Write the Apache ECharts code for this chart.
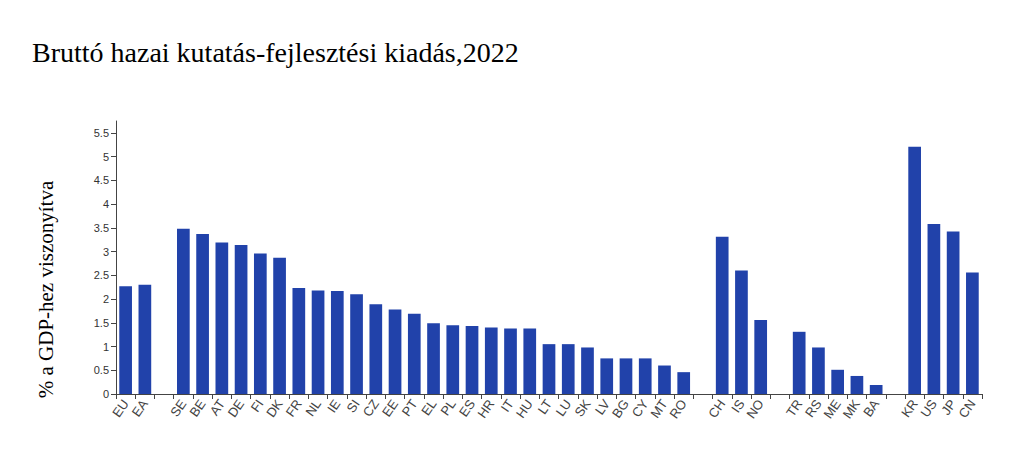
<!DOCTYPE html>
<html>
<head>
<meta charset="utf-8">
<script src="https://cdn.jsdelivr.net/npm/echarts@6/dist/echarts.min.js"></script>
<style>
html,body{margin:0;padding:0;background:#fff;}
#chart{width:1024px;height:455px;}
</style>
</head>
<body>
<div id="chart"></div>
<script>
// Categories ('' = gap between country groups)
const categories = ['EU','EA','','SE','BE','AT','DE','FI','DK','FR','NL','IE','SI','CZ','EE','PT','EL','PL','ES','HR','IT','HU','LT','LU','SK','LV','BG','CY','MT','RO','','CH','IS','NO','','TR','RS','ME','MK','BA','','KR','US','JP','CN'];
// GERD as % of GDP, 2022 (null = gap)
const values = [2.27,2.30,null,3.48,3.37,3.19,3.14,2.96,2.87,2.23,2.18,2.17,2.10,1.89,1.78,1.69,1.49,1.45,1.43,1.40,1.38,1.38,1.05,1.05,0.98,0.75,0.75,0.75,0.60,0.46,null,3.31,2.60,1.56,null,1.31,0.98,0.51,0.38,0.19,null,5.21,3.58,3.42,2.56];
// Y-axis tick labels
const yTicks = [0,0.5,1,1.5,2,2.5,3,3.5,4,4.5,5,5.5];

const titleText = 'Bruttó hazai kutatás-fejlesztési kiadás,2022';
const yAxisName = '% a GDP-hez viszonyítva';

const chart = echarts.init(document.getElementById('chart'), null, {renderer:'svg'});
chart.setOption({
  animation:false,
  backgroundColor:'#fff',
  title:{
    text:titleText,
    left:27, top:33,
    textStyle:{fontFamily:'Liberation Serif', fontSize:28, fontWeight:'normal', color:'#000'}
  },
  grid:{left:116, right:42, top:121, bottom:61, containLabel:false},
  xAxis:{
    type:'category',
    data:categories,
    boundaryGap:true,
    axisLine:{lineStyle:{color:'#444', width:1}},
    axisTick:{show:true, alignWithLabel:false, length:5, lineStyle:{color:'#444'}},
    axisLabel:{interval:0, rotate:55, fontFamily:'Liberation Sans', fontSize:13, color:'#444', margin:7}
  },
  yAxis:{
    type:'value',
    min:0, max:5.75,
    name:yAxisName,
    nameLocation:'middle',
    nameGap:60,
    nameRotate:90,
    nameTextStyle:{fontFamily:'Liberation Serif', fontSize:21, color:'#000', padding:[0,64,0,0]},
    splitLine:{show:false},
    axisLine:{show:true, lineStyle:{color:'#444', width:1}},
    axisTick:{show:true, length:5, lineStyle:{color:'#444'}, customValues:yTicks},
    axisLabel:{fontFamily:'Liberation Sans', fontSize:11, color:'#333', margin:7, customValues:yTicks,
      formatter:v=>String(v)}
  },
  series:[{
    type:'bar',
    data:values,
    barWidth:'66%',
    itemStyle:{color:'#2142AA'}
  }]
});
</script>
</body>
</html>
